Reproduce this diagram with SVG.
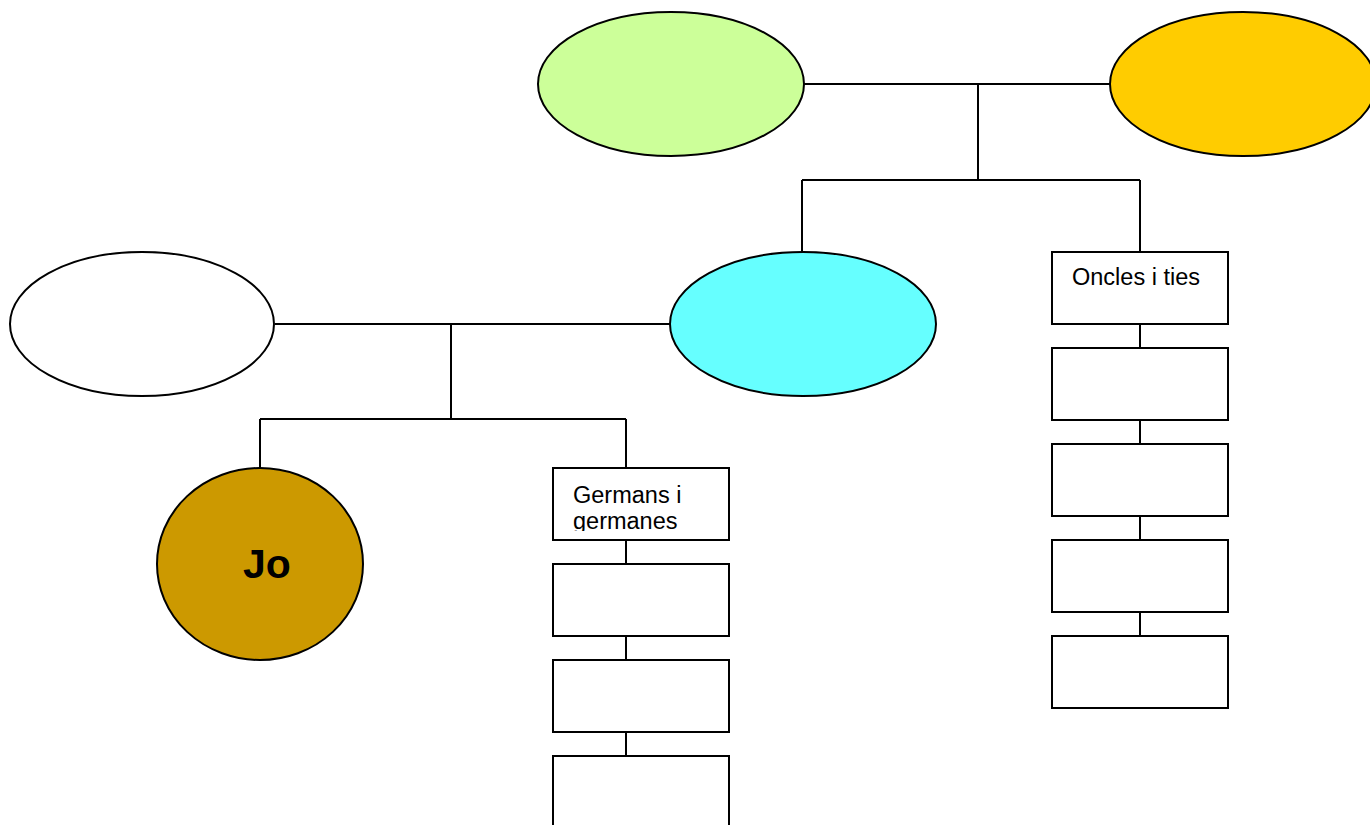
<svg xmlns="http://www.w3.org/2000/svg" width="1370" height="825" viewBox="0 0 1370 825">
<style>
.n{stroke:#000;stroke-width:2}
.b{fill:#fff;stroke:#000;stroke-width:2}
.c{fill:none;stroke:#000;stroke-width:2}
.t{font-family:"Liberation Sans",Arial,sans-serif;font-size:23.5px;fill:#000}
.jo{font-family:"Liberation Sans",Arial,sans-serif;font-size:41px;font-weight:bold;fill:#000}
</style>
<defs>
<clipPath id="gclip"><rect x="554" y="469" width="174" height="62"/></clipPath>
</defs>
<rect width="1370" height="825" fill="#fff"/>
<g id="connectors">
<path class="c" d="M804,84H1110M978,84V180M802,180H1140M802,180V252M1140,180V252"/>
<path class="c" d="M275,324H670M451,324V419M260,419H626M260,419V468M626,419V468"/>
<path class="c" d="M626,540V564M626,636V660M626,732V756"/>
<path class="c" d="M1140,324V348M1140,420V444M1140,516V540M1140,612V636"/>
</g>
<g id="grandparent1"><ellipse class="n" cx="671" cy="84" rx="133" ry="72" fill="#CCFF99"/></g>
<g id="grandparent2"><ellipse class="n" cx="1243" cy="84" rx="133" ry="72" fill="#FFCC00"/></g>
<g id="parent1"><ellipse class="n" cx="142" cy="324" rx="132" ry="72" fill="#fff"/></g>
<g id="parent2"><ellipse class="n" cx="803" cy="324" rx="133" ry="72" fill="#66FFFF"/></g>
<g id="jo"><ellipse class="n" cx="260" cy="564" rx="103" ry="96" fill="#CC9900"/><text class="jo" x="267" y="578" text-anchor="middle">Jo</text></g>
<g id="germans">
<rect class="b" x="553" y="468" width="176" height="72"/>
<g clip-path="url(#gclip)"><text class="t" x="573" y="503">Germans i</text><text class="t" x="573" y="529">germanes</text></g>
</g>
<g id="germa1"><rect class="b" x="553" y="564" width="176" height="72"/></g>
<g id="germa2"><rect class="b" x="553" y="660" width="176" height="72"/></g>
<g id="germa3"><rect class="b" x="553" y="756" width="176" height="80"/></g>
<g id="oncles"><rect class="b" x="1052" y="252" width="176" height="72"/><text class="t" x="1072" y="285">Oncles i ties</text></g>
<g id="oncle1"><rect class="b" x="1052" y="348" width="176" height="72"/></g>
<g id="oncle2"><rect class="b" x="1052" y="444" width="176" height="72"/></g>
<g id="oncle3"><rect class="b" x="1052" y="540" width="176" height="72"/></g>
<g id="oncle4"><rect class="b" x="1052" y="636" width="176" height="72"/></g>
</svg>
